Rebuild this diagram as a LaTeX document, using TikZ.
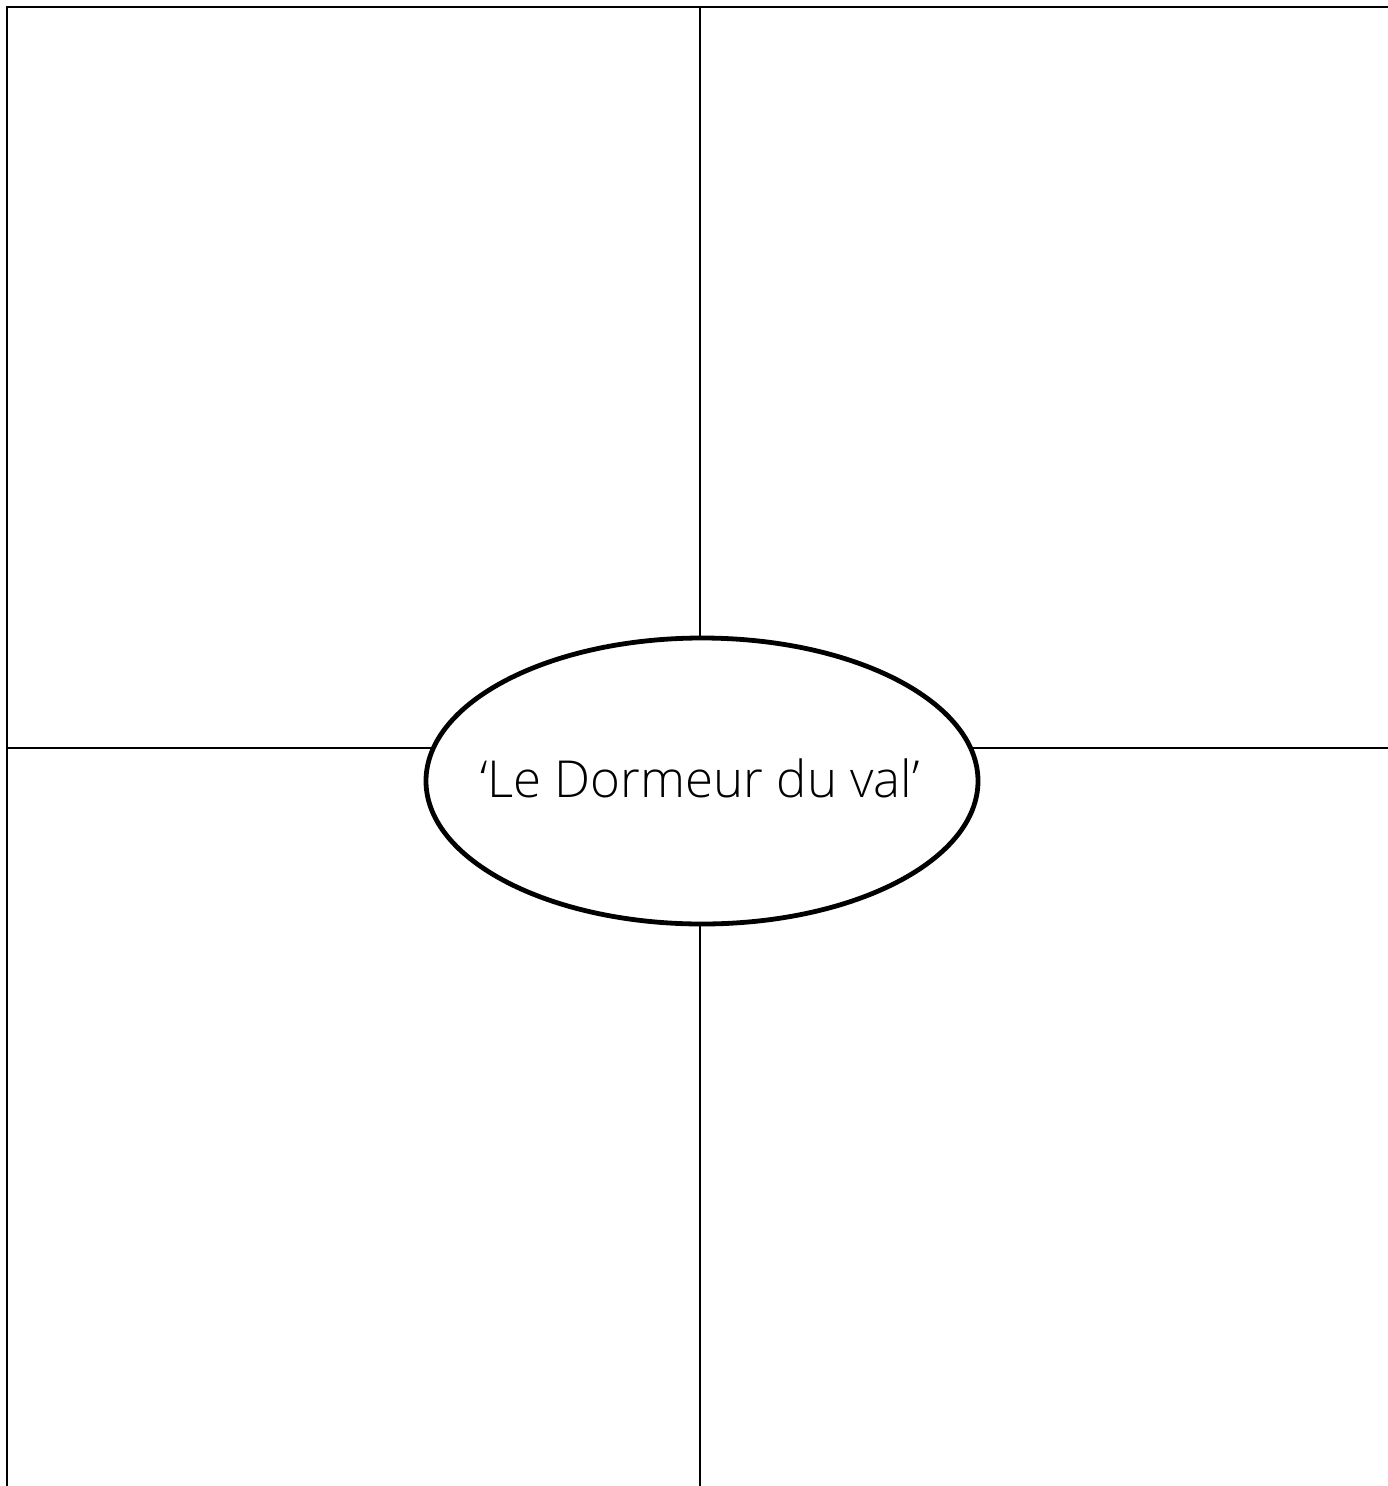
\documentclass[tikz,border=0pt]{standalone}
\usepackage{fontspec}
\setmainfont{Open Sans Light}
\usetikzlibrary{shapes.geometric}
\begin{document}
\begin{tikzpicture}[x=1pt,y=-1pt,
  gridline/.style={line width=2pt,line cap=rect},
  oval/.style={ellipse,draw,fill=white,line width=4.8pt,minimum width=552pt,minimum height=286pt,inner sep=0pt}]
\useasboundingbox (0,0) rectangle (1387,1486);
\coordinate (tl) at (7,7);
\coordinate (tr) at (1387,7);
\coordinate (bl) at (7,1486);
\coordinate (tm) at (700,7);
\coordinate (bm) at (700,1486);
\coordinate (lm) at (7,748);
\coordinate (rm) at (1387,748);
\draw[gridline] (tl) -- (tr);
\draw[gridline] (tl) -- (bl);
\draw[gridline] (tm) -- (bm);
\draw[gridline] (lm) -- (rm);
\node[oval] (c) at (702,781) {};
\node[font=\fontsize{51}{60}\selectfont,anchor=base] (t) at (700,797) {‘Le Dormeur du val’};
\end{tikzpicture}
\end{document}
